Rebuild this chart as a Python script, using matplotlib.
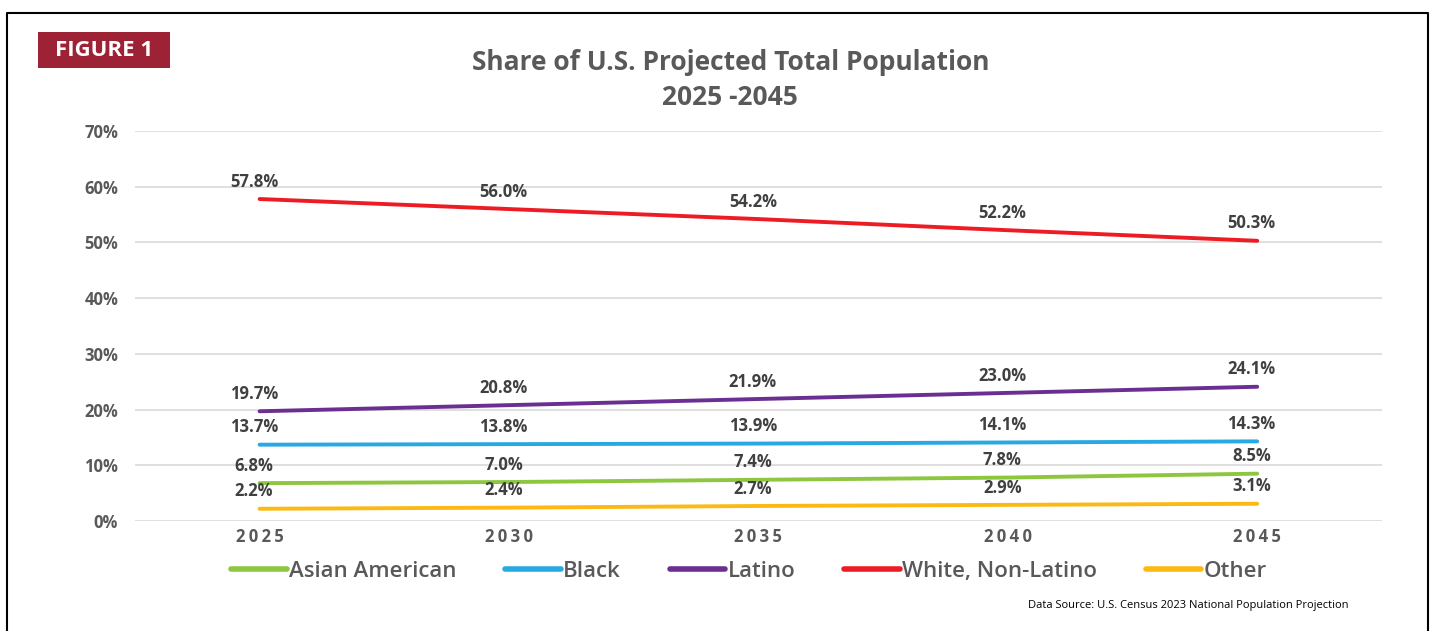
import matplotlib.pyplot as plt
from matplotlib.patches import Rectangle
from matplotlib.lines import Line2D

# data
years = ['2025', '2030', '2035', '2040', '2045']
asian = [6.8, 7.0, 7.4, 7.8, 8.5]
black = [13.7, 13.8, 13.9, 14.1, 14.3]
latino = [19.7, 20.8, 21.9, 23.0, 24.1]
white = [57.8, 56.0, 54.2, 52.2, 50.3]
other = [2.2, 2.4, 2.7, 2.9, 3.1]
series_names = ['Asian American', 'Black', 'Latino', 'White, Non-Latino', 'Other']
series_colors = ['#8DC63F', '#29A9E1', '#6B2E91', '#ED1C24', '#FDB913']
yticks = [0, 10, 20, 30, 40, 50, 60, 70]

plt.rcParams['font.family'] = ['Open Sans', 'DejaVu Sans']

fig = plt.figure(figsize=(14.35, 6.31), dpi=100)
ax = fig.add_axes([0.094, 0.1743, 0.869, 0.6180])

x = list(range(len(years)))
all_series = [asian, black, latino, white, other]
for vals, name, col in zip(all_series, series_names, series_colors):
    ax.plot(x, vals, color=col, lw=2.8, solid_capstyle='round', label=name, zorder=3)
    for xi, v in zip(x, vals):
        ax.annotate(f'{v:.1f}%', (xi, v), xytext=(-4, 6), textcoords='offset points',
                    ha='center', va='bottom', fontsize=12, fontweight='bold', color='#404040')

ax.set_xlim(-0.5, 4.5)
ax.set_ylim(0, 70)
ax.set_yticks(yticks)
ax.set_yticklabels([f'{t}%' for t in yticks])
ax.set_xticks(x)
ax.set_xticklabels([' '.join(list(y)) for y in years])
ax.grid(axis='y', color='#D9D9D9', lw=1.2)
ax.set_axisbelow(True)
for s in ax.spines.values():
    s.set_visible(False)
ax.tick_params(length=0, colors='#595959', labelsize=12)
ax.tick_params(axis='y', pad=12)
ax.tick_params(axis='x', pad=5)
for lab in ax.get_xticklabels() + ax.get_yticklabels():
    lab.set_fontweight('bold')
for lab in ax.get_xticklabels():
    lab.set_fontsize(12)
    lab.set_text(lab.get_text())
ax.set_xticklabels(['\u2009'.join(list(y)) for y in years], fontweight='bold', fontsize=12)

handles = [Line2D([0], [0], color=c, lw=4, solid_capstyle='round') for c in series_colors]
leg = fig.legend(handles, series_names, loc='center', bbox_to_anchor=(0.522, 0.095), ncol=5,
                 frameon=False, fontsize=16, handlelength=2.5, handletextpad=0.1,
                 columnspacing=2.2)
for t in leg.get_texts():
    t.set_color('#595959')
    t.set_fontweight('semibold')

fig.text(0.509, 0.873, 'Share of U.S. Projected Total Population\n2025 -2045', ha='center',
         va='center', fontsize=19, fontweight='bold', color='#595959', linespacing=1.35)

# figure badge and border
fig.patches.append(Rectangle((0.0265, 0.892), 0.092, 0.057, transform=fig.transFigure,
                             facecolor='#9E2236', edgecolor='none'))
fig.text(0.0725, 0.920, 'FIGURE 1', ha='center', va='center', fontsize=16,
         fontweight='bold', color='white')
fig.add_artist(Line2D([0.005, 0.005, 0.995, 0.995], [0.0, 0.979, 0.979, 0.0],
                      transform=fig.transFigure, color='black', lw=1.5))

fig.text(0.940, 0.041, 'Data Source: U.S. Census 2023 National Population Projection',
         ha='right', va='center', fontsize=8, color='black')

fig.savefig('out.png', dpi=100)
